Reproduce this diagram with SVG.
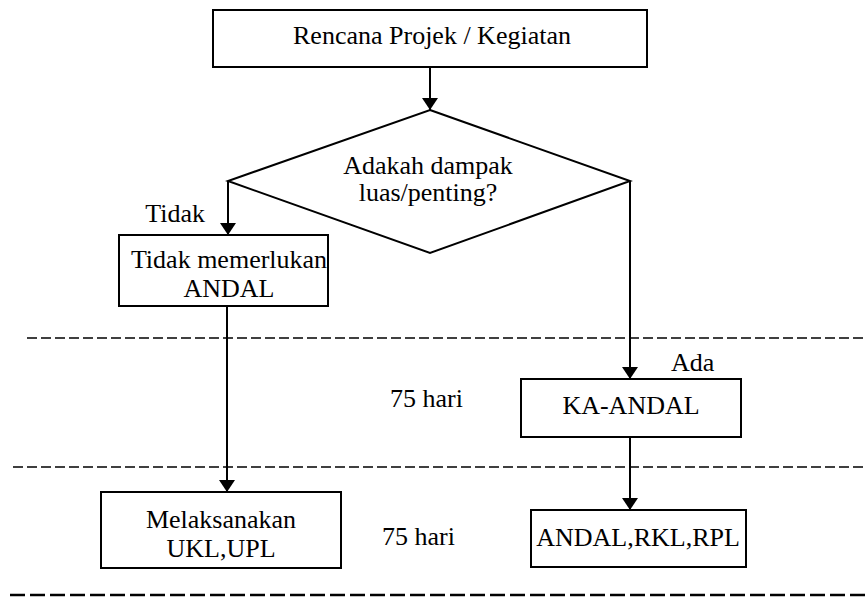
<svg xmlns="http://www.w3.org/2000/svg" width="866" height="597" viewBox="0 0 866 597">
<style>
.box{fill:#fff;stroke:#000;stroke-width:2}
.t{font-family:"Liberation Serif","Times New Roman",serif;font-size:26px;fill:#000}
.c{text-anchor:middle}
.ln{stroke:#000;stroke-width:2;fill:none}
.dash{stroke:#000;stroke-width:1.5;stroke-dasharray:10 4;fill:none}
.dash2{stroke:#000;stroke-width:2.5;stroke-dasharray:15 5;fill:none}
</style>
<defs>
<marker id="ah" viewBox="0 0 12 16" refX="12" refY="8" markerWidth="12" markerHeight="16" markerUnits="userSpaceOnUse" orient="auto">
<path d="M0,0 L12,8 L0,16 Z" fill="#000"/>
</marker>
</defs>
<rect width="866" height="597" fill="#fff"/>
<g id="separators">
<line class="dash" x1="27" y1="338" x2="866" y2="338"/>
<line class="dash" x1="13" y1="467" x2="866" y2="467"/>
<line class="dash2" x1="10" y1="595" x2="866" y2="595"/>
</g>
<g id="connectors">
<line class="ln" x1="430" y1="67" x2="430" y2="110" marker-end="url(#ah)"/>
<line class="ln" x1="228" y1="181" x2="228" y2="235" marker-end="url(#ah)"/>
<line class="ln" x1="630" y1="181" x2="630" y2="379" marker-end="url(#ah)"/>
<line class="ln" x1="227" y1="306" x2="227" y2="492" marker-end="url(#ah)"/>
<line class="ln" x1="630" y1="437" x2="630" y2="510" marker-end="url(#ah)"/>
<text class="t" x="205" y="222" text-anchor="end">Tidak</text>
<text class="t" x="671" y="371">Ada</text>
</g>
<g id="n-rencana">
<rect class="box" x="213" y="10" width="434" height="57"/>
<text class="t c" x="432" y="44">Rencana Projek / Kegiatan</text>
</g>
<g id="n-decision">
<polygon class="box" points="430,110 630,181 430,253 228,181"/>
<text class="t c" x="428" y="174">Adakah dampak</text>
<text class="t c" x="428" y="201">luas/penting?</text>
</g>
<g id="n-tidak">
<rect class="box" x="119" y="235" width="209" height="71"/>
<text class="t c" x="229" y="268">Tidak memerlukan</text>
<text class="t c" x="229" y="297">ANDAL</text>
</g>
<g id="n-kaandal">
<rect class="box" x="521" y="379" width="220" height="58"/>
<text class="t c" x="631" y="414">KA-ANDAL</text>
</g>
<g id="n-ukl">
<rect class="box" x="101" y="492" width="240" height="76"/>
<text class="t c" x="221" y="528">Melaksanakan</text>
<text class="t c" x="221" y="557">UKL,UPL</text>
</g>
<g id="n-andal">
<rect class="box" x="531" y="510" width="215" height="57"/>
<text class="t c" x="638" y="546">ANDAL,RKL,RPL</text>
</g>
<g id="labels">
<text class="t" x="390" y="407">75 hari</text>
<text class="t" x="382" y="545">75 hari</text>
</g>
</svg>
